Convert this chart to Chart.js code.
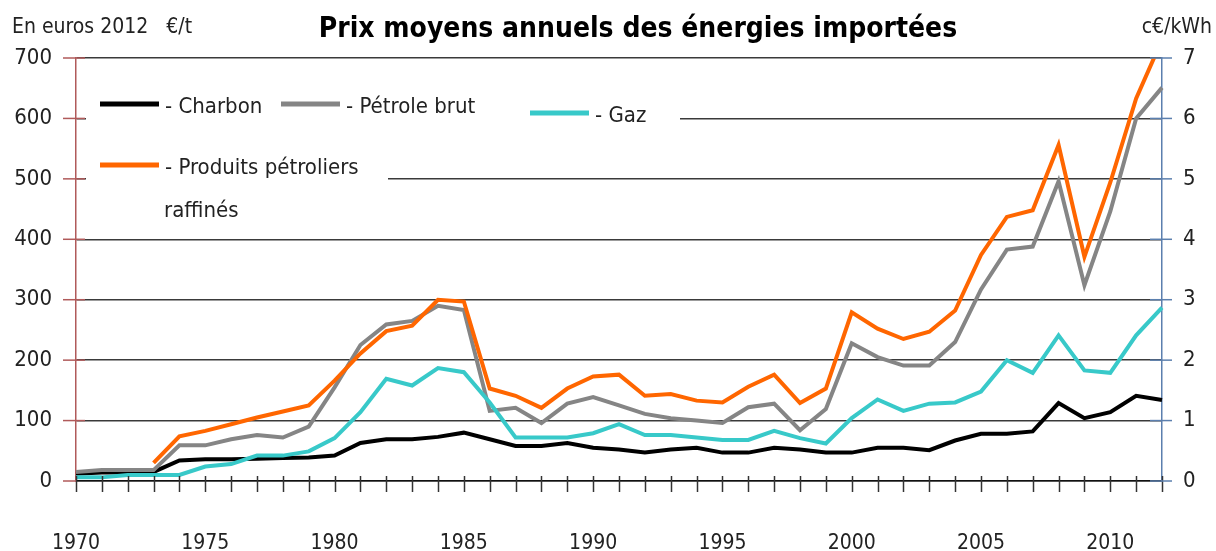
<!DOCTYPE html>
<html>
<head>
<meta charset="utf-8">
<script src="https://cdn.jsdelivr.net/npm/chart.js@4.4.0/dist/chart.umd.min.js"></script>
<style>
  html, body { margin: 0; padding: 0; background: #fff; }
  #wrap { width: 1216px; height: 551px; }
</style>
</head>
<body>
<div id="wrap"><canvas id="graph"></canvas></div>
<script>
const FONT = "'DejaVu Sans Condensed', 'Liberation Sans Narrow', 'Open Sans', sans-serif";

const years = [1970, 1971, 1972, 1973, 1974, 1975, 1976, 1977, 1978, 1979,
  1980, 1981, 1982, 1983, 1984, 1985, 1986, 1987, 1988, 1989,
  1990, 1991, 1992, 1993, 1994, 1995, 1996, 1997, 1998, 1999,
  2000, 2001, 2002, 2003, 2004, 2005, 2006, 2007, 2008, 2009,
  2010, 2011, 2012];
const yearLabels = [1970, 1975, 1980, 1985, 1990, 1995, 2000, 2005, 2010];

// €/t (echelle de gauche)
const charbon = [12, 14, 14, 15, 34, 36, 36, 37, 38, 39,
  42, 63, 69, 69, 73, 80, 69, 58, 58, 63,
  55, 52, 47, 52, 55, 47, 47, 55, 52, 47,
  47, 55, 55, 51, 67, 78, 78, 82, 129, 104,
  114, 141, 134];
const petroleBrut = [15, 18, 18, 18, 59, 59, 69, 76, 72, 90,
  155, 225, 259, 265, 290, 283, 116, 121, 96, 128,
  139, 125, 111, 104, 100, 96, 122, 128, 84, 119,
  228, 205, 191, 191, 230, 317, 383, 388, 496, 324,
  446, 600, 651];
const gaz = [6, 6, 10, 10, 10, 24, 28, 42, 42, 49,
  71, 114, 169, 158, 187, 180, 130, 72, 72, 72,
  79, 94, 76, 76, 72, 68, 68, 83, 71, 62,
  104, 135, 116, 128, 130, 148, 200, 179, 241, 183,
  179, 241, 287];
const produitsRaffines = [null, null, null, 30, 74, 83, 94, 105, 115, 125,
  166, 211, 248, 257, 300, 297, 153, 141, 121, 153,
  173, 176, 141, 144, 133, 130, 156, 176, 129, 153,
  279, 252, 235, 247, 282, 374, 437, 448, 556, 371,
  494, 633, 730];

const leftMax = 700;   // €/t
const rightMax = 7;    // c€/kWh

const legendItems = [
  { label: '- Charbon', color: '#000000' },
  { label: '- Pétrole brut', color: '#858585' },
  { label: '- Gaz', color: '#38c9c9' },
  { label: '- Produits pétroliers', color: '#ff6600' }
];

// petites graduations qui traversent les axes
const tickMarks = {
  id: 'tickMarks',
  afterDraw(chart) {
    const ctx = chart.ctx;
    const x = chart.scales.x, y = chart.scales.y, y1 = chart.scales.y1;
    ctx.save();
    ctx.lineWidth = 1.5;
    ctx.strokeStyle = '#333';
    x.ticks.forEach((t, i) => {
      const px = Math.round(x.getPixelForTick(i)) + 0.5;
      ctx.beginPath();
      ctx.moveTo(px, x.top - 5);
      ctx.lineTo(px, x.top + 11);
      ctx.stroke();
    });
    ctx.strokeStyle = '#b05a5a';
    y.ticks.forEach(t => {
      const py = y.getPixelForValue(t.value);
      ctx.beginPath();
      ctx.moveTo(y.right - 13, py);
      ctx.lineTo(y.right + (t.value === 0 ? 0 : 9), py);
      ctx.stroke();
    });
    ctx.strokeStyle = '#5b7fae';
    y1.ticks.forEach(t => {
      const py = y1.getPixelForValue(t.value);
      ctx.beginPath();
      ctx.moveTo(y1.left - 12, py);
      ctx.lineTo(y1.left + 10, py);
      ctx.stroke();
    });
    ctx.restore();
  }
};

// titre et unités
const headerTexts = {
  id: 'headerTexts',
  afterDraw(chart) {
    const ctx = chart.ctx;
    ctx.save();
    ctx.textBaseline = 'middle';
    ctx.fillStyle = '#000';
    ctx.font = 'bold 28px ' + FONT;
    ctx.textAlign = 'center';
    ctx.fillText('Prix moyens annuels des énergies importées', 638, 30);
    ctx.fillStyle = '#222';
    ctx.font = '21px ' + FONT;
    ctx.textAlign = 'left';
    ctx.fillText('En euros 2012   €/t', 12, 28);
    ctx.textAlign = 'right';
    ctx.fillText('c€/kWh', 1212, 28);
    ctx.restore();
  }
};

// légende dessinée dans la zone du graphique, sur fond blanc
const insideLegend = {
  id: 'insideLegend',
  beforeDatasetsDraw(chart) {
    const ctx = chart.ctx;
    ctx.save();
    ctx.fillStyle = '#fff';
    ctx.fillRect(86, 90, 594, 40);
    ctx.fillRect(86, 145, 302, 80);
    const spots = [[100, 104], [281, 104], [530, 113], [100, 165]];
    ctx.lineWidth = 5;
    ctx.font = '22px ' + FONT;
    ctx.textBaseline = 'middle';
    ctx.textAlign = 'left';
    legendItems.forEach((it, i) => {
      const [lx, ly] = spots[i];
      ctx.strokeStyle = it.color;
      ctx.beginPath();
      ctx.moveTo(lx, ly);
      ctx.lineTo(lx + 59, ly);
      ctx.stroke();
      ctx.fillStyle = '#222';
      ctx.fillText(it.label, lx + 65, ly + 3);
    });
    ctx.fillText('raffinés', 164, 211);
    ctx.restore();
  }
};

function serie(label, data, color, order) {
  return {
    label: label,
    data: data,
    borderColor: color,
    backgroundColor: color,
    borderWidth: 4,
    pointRadius: 0,
    tension: 0,
    order: order,
    clip: { left: 2, right: 2, top: 0, bottom: 3 }
  };
}

new Chart(document.getElementById('graph'), {
  type: 'line',
  data: {
    labels: years,
    datasets: [
      serie('Produits pétroliers raffinés', produitsRaffines, '#ff6600', 0),
      serie('Gaz', gaz, '#38c9c9', 1),
      serie('Pétrole brut', petroleBrut, '#858585', 2),
      serie('Charbon', charbon, '#000000', 3)
    ]
  },
  options: {
    responsive: true,
    maintainAspectRatio: false,
    animation: false,
    devicePixelRatio: 1,
    layout: { padding: { top: 58, left: 0, right: 0, bottom: 0 } },
    plugins: {
      legend: { display: false },
      title: { display: false },
      tooltip: { enabled: false }
    },
    scales: {
      x: {
        offset: false,
        grid: { drawOnChartArea: false, drawTicks: false },
        border: { color: '#111', width: 1.5 },
        ticks: {
          autoSkip: false,
          maxRotation: 0,
          padding: 50,
          color: '#222',
          font: { family: FONT, size: 21 },
          callback: function (val) {
            const yr = years[val];
            return yearLabels.includes(yr) ? String(yr) : '';
          }
        },
        afterFit(scale) { scale.height = 70; }
      },
      y: {
        position: 'left',
        min: 0,
        max: leftMax,
        grid: { color: '#3a3a3a', lineWidth: 1.5, drawTicks: false },
        border: { color: '#b05a5a', width: 1.5 },
        ticks: {
          stepSize: 100,
          padding: 24,
          color: '#222',
          font: { family: FONT, size: 22 }
        },
        afterFit(scale) { scale.width = 76; }
      },
      y1: {
        position: 'right',
        min: 0,
        max: rightMax,
        grid: { drawOnChartArea: false, drawTicks: false },
        border: { color: '#5b7fae', width: 1.5 },
        ticks: {
          stepSize: 1,
          padding: 21,
          color: '#222',
          font: { family: FONT, size: 22 }
        },
        afterFit(scale) { scale.width = 54; }
      }
    }
  },
  plugins: [tickMarks, headerTexts, insideLegend]
});
</script>
</body>
</html>
